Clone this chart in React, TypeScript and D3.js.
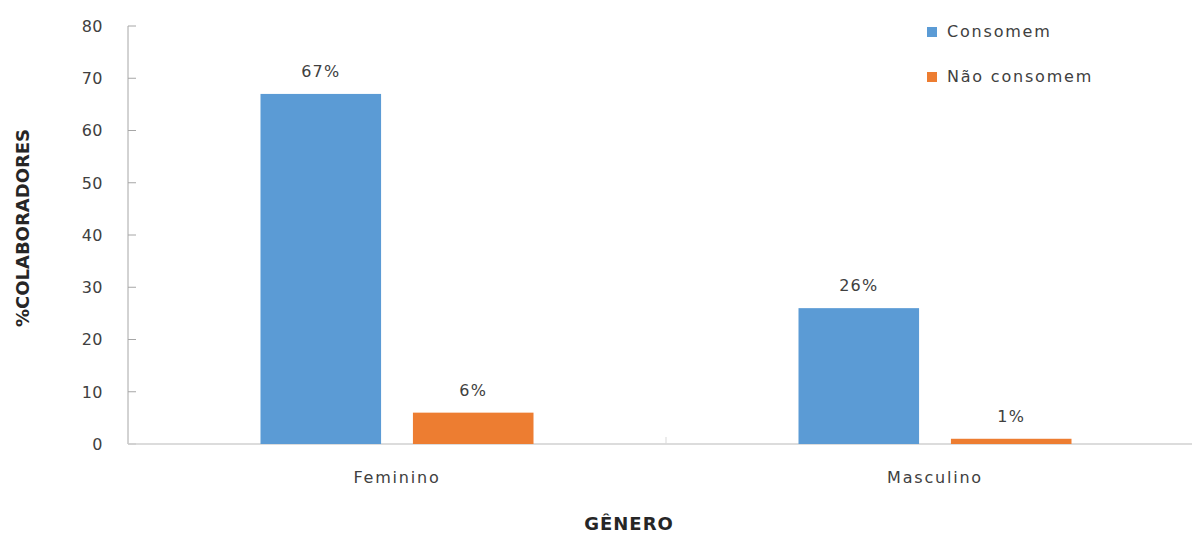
import React from "react";
import * as d3 from "d3";

// Share of staff who consume / do not consume, by gender
const categories = ["Feminino", "Masculino"];
const seriesNames = ["Consomem", "Não consomem"];
const consomem = [67, 26];
const naoConsomem = [6, 1];
const yTicks = [0, 10, 20, 30, 40, 50, 60, 70, 80];
const colors = ["#5B9BD5", "#ED7D31"];

const W = 1192;
const H = 535;
const FONT = "'DejaVu Sans', sans-serif";
const TEXT = "#404040";

export default function App() {
  const left = 128;
  const y = d3.scaleLinear().domain([0, 80]).range([444, 26]);
  const x = d3.scaleBand<string>().domain(categories).range([left, 1204]).padding(0);
  const inner = d3
    .scaleBand<string>()
    .domain(seriesNames)
    .range([132.5, x.bandwidth() - 132.5])
    .paddingInner(0.209)
    .paddingOuter(0);

  const values = [consomem, naoConsomem];
  const base = y(0);

  return (
    <svg
      width={W}
      height={H}
      style={{ position: "absolute", left: 0, top: 0, background: "#fff" }}
      fontFamily={FONT}
    >
      {/* y axis */}
      <line x1={left} x2={left} y1={y(80)} y2={base} stroke="#a6a6a6" strokeWidth={1} />
      {yTicks.map((t) => (
        <g key={t}>
          <line x1={left} x2={left + 8} y1={y(t)} y2={y(t)} stroke="#a6a6a6" strokeWidth={1} />
          <text
            x={103}
            y={y(t)}
            dy="0.36em"
            textAnchor="end"
            fontSize={16}
            fill={TEXT}
            letterSpacing={0.5}
          >
            {t}
          </text>
        </g>
      ))}

      {/* x axis */}
      <line x1={left} x2={W} y1={base} y2={base} stroke="#d0d0d0" strokeWidth={1.5} />
      {categories.slice(1).map((c) => (
        <line
          key={c}
          x1={x(c)!}
          x2={x(c)!}
          y1={base}
          y2={base - 7}
          stroke="#d9d9d9"
          strokeWidth={1}
        />
      ))}

      {/* bars and value labels */}
      {categories.map((c, ci) =>
        seriesNames.map((s, si) => {
          const v = values[si][ci];
          const bx = x(c)! + inner(s)!;
          const bw = inner.bandwidth();
          return (
            <g key={c + s}>
              <rect x={bx} y={y(v)} width={bw} height={base - y(v)} fill={colors[si]} />
              <text
                x={bx + bw / 2}
                y={y(v) - 17}
                textAnchor="middle"
                fontSize={16}
                fill={TEXT}
                letterSpacing={1.2}
              >
                {v}%
              </text>
            </g>
          );
        })
      )}

      {/* category labels */}
      {categories.map((c) => (
        <text
          key={c}
          x={x(c)! + x.bandwidth() / 2}
          y={483}
          textAnchor="middle"
          fontSize={16}
          fill={TEXT}
          letterSpacing={1.8}
        >
          {c}
        </text>
      ))}

      {/* axis titles */}
      <text
        x={629}
        y={530}
        textAnchor="middle"
        fontSize={18}
        fontWeight="bold"
        fill="#262626"
        letterSpacing={1}
      >
        GÊNERO
      </text>
      <text
        transform={`translate(29, 228) rotate(-90)`}
        textAnchor="middle"
        fontSize={18}
        fontWeight="bold"
        fill="#262626"
      >
        %COLABORADORES
      </text>

      {/* legend */}
      {seriesNames.map((s, i) => (
        <g key={s} transform={`translate(927, ${27 + i * 45})`}>
          <rect x={0} y={0} width={10} height={10} fill={colors[i]} />
          <text x={20} y={10} fontSize={16} fill={TEXT} letterSpacing={1.8}>
            {s}
          </text>
        </g>
      ))}
    </svg>
  );
}
